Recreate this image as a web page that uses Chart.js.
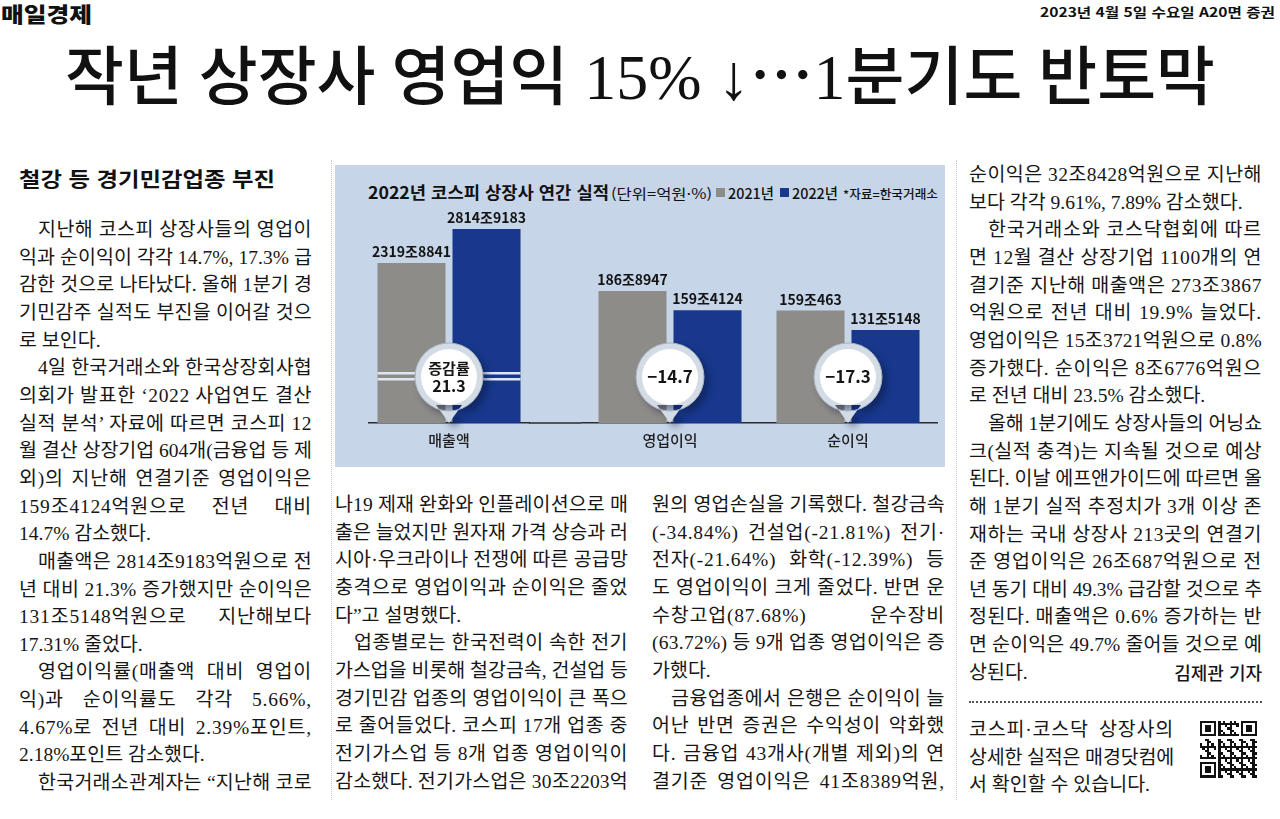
<!DOCTYPE html>
<html lang="ko">
<head>
<meta charset="utf-8">
<script src="https://cdn.jsdelivr.net/npm/chart.js@4.4.1/dist/chart.umd.min.js"></script>
<style>
html,body{margin:0;padding:0}
body{width:1280px;height:819px;position:relative;overflow:hidden;background:#fff;color:#1b1b1b;
  font-family:"Liberation Serif","Noto Sans CJK KR",serif}
.abs{position:absolute;white-space:nowrap}
.fit{display:inline-block;transform-origin:0 50%}
#logo{left:1px;top:1px;font:900 21px/24px "Noto Sans CJK KR";color:#111}
#date{left:1040px;top:3px;font:700 13px/18px "Noto Sans CJK KR";color:#111}
#headline{left:65px;top:33px;font:500 64px/76px "Liberation Serif","Noto Sans CJK KR";color:#111}
#headline .ell{font-family:"Noto Sans CJK SC"}
#subhead{left:19px;top:164px;font:700 20.5px/28px "Noto Sans CJK KR";color:#111}
.col{position:absolute;width:293px}
.ln{position:relative;height:27.65px;line-height:27.65px;white-space:nowrap;font-size:19.5px;box-sizing:border-box;color:#161616}
.ln.i{padding-left:19px}
.t{display:inline-block;transform-origin:0 50%}
.r{position:absolute;right:0;top:0;display:inline-block;transform-origin:100% 50%;font-family:"Noto Sans CJK KR";font-size:18px;font-weight:500}
.vsep{position:absolute;top:160px;height:640px;border-left:1px dotted #c9c9c9}
#dots{position:absolute;left:969px;top:701px;width:293px;border-top:2px dotted #555}
#chart{position:absolute;left:335px;top:165px;width:610px;height:302px;background:#c6d5e8}
#chart canvas{position:absolute;top:0}
#ctitle{left:33px;top:16px;font:700 16.5px/22px "Noto Sans CJK KR";color:#111}
#cunit{left:276px;top:17px;font:400 14px/22px "Noto Sans CJK KR";color:#111}
.lsq{position:absolute;top:23px;width:9px;height:9px}
.ltx{top:17px;font:500 14.5px/22px "Noto Sans CJK KR";color:#111}
#csrc{left:508px;top:18px;font:500 12px/22px "Noto Sans CJK KR";color:#111}
#qr{position:absolute;left:1200px;top:720px;width:57px;height:58px}
</style>
</head>
<body>
<script>
// ---- chart data (억원 / %) ----
const categories = ['매출액', '영업이익', '순이익'];
const seriesNames = ['2021년', '2022년'];
const series2021 = [23198841, 1868947, 1590463];
const series2022 = [28149183, 1594124, 1315148];
const changeRate = [21.3, -14.7, -17.3];
const rateCaption = ['증감률', null, null];
</script>

<div id="logo" class="abs"><span class="fit" data-w="91">매일경제</span></div>
<div id="date" class="abs"><span class="fit" data-w="235">2023년 4월 5일 수요일 A20면 증권</span></div>
<div id="headline" class="abs"><span class="fit" data-w="1150">작년 상장사 영업익 15% ↓<span class="ell">…</span>1분기도 반토막</span></div>
<div id="subhead" class="abs"><span class="fit" data-w="256">철강 등 경기민감업종 부진</span></div>

<div class="vsep" style="left:331px"></div>
<div class="vsep" style="left:956px"></div>

<div id="chart">
  <div id="ctitle" class="abs"><span class="fit" data-w="241">2022년 코스피 상장사 연간 실적</span></div>
  <div id="cunit" class="abs"><span class="fit" data-w="101">(단위=억원·%)</span></div>
  <div class="lsq" style="left:381px;background:#8e8c89"></div>
  <div class="abs ltx" style="left:393px"><span class="fit" data-w="46">2021년</span></div>
  <div class="lsq" style="left:445px;background:#17388d"></div>
  <div class="abs ltx" style="left:457px"><span class="fit" data-w="46">2022년</span></div>
  <div id="csrc" class="abs"><span class="fit" data-w="95">*자료=한국거래소</span></div>
  <canvas id="cA" width="246" height="302" style="left:0;width:246px;height:302px"></canvas>
  <canvas id="cB" width="364" height="302" style="left:246px;width:364px;height:302px"></canvas>
</div>

<div id="dots"></div>
<div id="qr"></div>

<script>
const COLORS = {gray:'#8e8c89', navy:'#17388d', axis:'#2b2b2b', ink:'#141414'};
const FONT = '"Noto Sans CJK KR"';

const fmtEok = v => Math.floor(v / 10000) + '조' + (v % 10000);
const fmtRate = r => (r < 0 ? '−' : '') + Math.abs(r).toFixed(1);

const valueLabels = {
  id: 'valueLabels',
  afterDatasetsDraw(chart) {
    const ctx = chart.ctx;
    ctx.save();
    ctx.font = '700 14px ' + FONT;
    ctx.fillStyle = COLORS.ink;
    ctx.textAlign = 'center';
    ctx.textBaseline = 'alphabetic';
    chart.data.datasets.forEach((ds, di) => {
      chart.getDatasetMeta(di).data.forEach((el, i) => {
        ctx.fillText(fmtEok(ds.data[i]), el.x, el.y - 6);
      });
    });
    ctx.restore();
  }
};

const axisBreak = {
  id: 'axisBreak',
  afterDatasetsDraw(chart) {
    const ctx = chart.ctx, base = chart.chartArea.bottom;
    ctx.save();
    ctx.fillStyle = '#dde6f1';
    chart.data.datasets.forEach((ds, di) => {
      chart.getDatasetMeta(di).data.forEach(el => {
        const l = el.x - el.width / 2;
        ctx.fillRect(l, base - 51, el.width, 2.5);
        ctx.fillRect(l, base - 45, el.width, 2.5);
      });
    });
    ctx.restore();
  }
};

function rateBubbles(idx) {
  return {
    id: 'rateBubbles',
    afterDatasetsDraw(chart) {
      const ctx = chart.ctx, base = chart.chartArea.bottom;
      idx.forEach((ci, k) => {
        const cx = chart.scales.x.getPixelForValue(k);
        const cy = base - 46, R = 34, r = 28;
        ctx.save();
        ctx.shadowColor = 'rgba(10,20,50,0.45)';
        ctx.shadowBlur = 7; ctx.shadowOffsetX = 5; ctx.shadowOffsetY = 5;
        ctx.fillStyle = '#d3dbe5';
        ctx.beginPath();
        ctx.arc(cx, cy, R, 0, Math.PI * 2);
        ctx.moveTo(cx - 13, cy + R - 6);
        ctx.lineTo(cx, base);
        ctx.lineTo(cx + 13, cy + R - 6);
        ctx.closePath();
        ctx.fill();
        ctx.restore();
        ctx.save();
        ctx.strokeStyle = '#a9b4c2'; ctx.lineWidth = 1;
        ctx.beginPath(); ctx.arc(cx, cy, R, 0, Math.PI * 2); ctx.stroke();
        ctx.fillStyle = '#ffffff';
        ctx.beginPath(); ctx.arc(cx, cy, r, 0, Math.PI * 2); ctx.fill();
        ctx.fillStyle = COLORS.ink; ctx.textAlign = 'center'; ctx.textBaseline = 'middle';
        if (rateCaption[ci]) {
          ctx.font = '700 15px ' + FONT;
          ctx.fillText(rateCaption[ci], cx, cy - 9);
          ctx.font = '700 16px ' + FONT;
          ctx.fillText(fmtRate(changeRate[ci]), cx, cy + 9);
        } else {
          ctx.font = '700 17px ' + FONT;
          ctx.fillText(fmtRate(changeRate[ci]), cx, cy);
        }
        ctx.restore();
      });
    }
  };
}

const baseExtend = {
  id: 'baseExtend',
  afterDraw(chart) {
    const ctx = chart.ctx, a = chart.chartArea;
    ctx.save();
    ctx.strokeStyle = COLORS.axis; ctx.lineWidth = 1.5;
    ctx.beginPath(); ctx.moveTo(a.right, a.bottom); ctx.lineTo(chart.width, a.bottom); ctx.stroke();
    ctx.restore();
  }
};

function barChart(id, idx, yMax, pad, catPct, extra) {
  return new Chart(document.getElementById(id), {
    type: 'bar',
    data: {
      labels: idx.map(i => categories[i]),
      datasets: [
        {label: seriesNames[0], data: idx.map(i => series2021[i]), backgroundColor: COLORS.gray,
         categoryPercentage: catPct, barPercentage: 0.907},
        {label: seriesNames[1], data: idx.map(i => series2022[i]), backgroundColor: COLORS.navy,
         categoryPercentage: catPct, barPercentage: 0.907}
      ]
    },
    options: {
      responsive: false,
      animation: false,
      layout: {padding: pad},
      plugins: {legend: {display: false}, tooltip: {enabled: false}},
      scales: {
        x: {
          offset: true,
          grid: {display: false, drawTicks: false},
          border: {display: true, color: COLORS.axis, width: 1.5},
          ticks: {padding: 8, maxRotation: 0, color: '#1e1e1e', font: {family: 'Noto Sans CJK KR', size: 15, weight: '500'}}
        },
        y: {display: false, min: 0, max: yMax}
      }
    },
    plugins: [valueLabels].concat(extra, [rateBubbles(idx)])
  });
}

// 매출액 is drawn on its own (broken) axis, the profits on a shared one
barChart('cA', [0], 30750000, {top: 46, bottom: 10, left: 34, right: 52}, 0.9375, [axisBreak, baseExtend]);
barChart('cB', [1, 2], 3000000, {top: 46, bottom: 10, left: 0, right: 8}, 0.8427, []);

// ---- article text ----
const col1 = [
 '^지난해 코스피 상장사들의 영업이',
 '익과 순이익이 각각 14.7%, 17.3% 급',
 '감한 것으로 나타났다. 올해 1분기 경',
 '기민감주 실적도 부진을 이어갈 것으',
 '로 보인다.$',
 '^4일 한국거래소와 한국상장회사협',
 '의회가 발표한 ‘2022 사업연도 결산',
 '실적 분석’ 자료에 따르면 코스피 12',
 '월 결산 상장기업 604개(금융업 등 제',
 '외)의 지난해 연결기준 영업이익은',
 '159조4124억원으로 전년 대비',
 '14.7% 감소했다.$',
 '^매출액은 2814조9183억원으로 전',
 '년 대비 21.3% 증가했지만 순이익은',
 '131조5148억원으로 지난해보다',
 '17.31% 줄었다.$',
 '^영업이익률(매출액 대비 영업이',
 '익)과 순이익률도 각각 5.66%,',
 '4.67%로 전년 대비 2.39%포인트,',
 '2.18%포인트 감소했다.$',
 '^한국거래소관계자는 “지난해 코로'
];
const col2 = [
 '나19 제재 완화와 인플레이션으로 매',
 '출은 늘었지만 원자재 가격 상승과 러',
 '시아·우크라이나 전쟁에 따른 공급망',
 '충격으로 영업이익과 순이익은 줄었',
 '다”고 설명했다.$',
 '^업종별로는 한국전력이 속한 전기',
 '가스업을 비롯해 철강금속, 건설업 등',
 '경기민감 업종의 영업이익이 큰 폭으',
 '로 줄어들었다. 코스피 17개 업종 중',
 '전기가스업 등 8개 업종 영업이익이',
 '감소했다. 전기가스업은 30조2203억'
];
const col3 = [
 '원의 영업손실을 기록했다. 철강금속',
 '(-34.84%) 건설업(-21.81%) 전기·',
 '전자(-21.64%) 화학(-12.39%) 등',
 '도 영업이익이 크게 줄었다. 반면 운',
 '수창고업(87.68%) 운수장비',
 '(63.72%) 등 9개 업종 영업이익은 증',
 '가했다.$',
 '^금융업종에서 은행은 순이익이 늘',
 '어난 반면 증권은 수익성이 악화했',
 '다. 금융업 43개사(개별 제외)의 연',
 '결기준 영업이익은 41조8389억원,'
];
const col4 = [
 '순이익은 32조8428억원으로 지난해',
 '보다 각각 9.61%, 7.89% 감소했다.$',
 '^한국거래소와 코스닥협회에 따르',
 '면 12월 결산 상장기업 1100개의 연',
 '결기준 지난해 매출액은 273조3867',
 '억원으로 전년 대비 19.9% 늘었다.',
 '영업이익은 15조3721억원으로 0.8%',
 '증가했다. 순이익은 8조6776억원으',
 '로 전년 대비 23.5% 감소했다.$',
 '^올해 1분기에도 상장사들의 어닝쇼',
 '크(실적 충격)는 지속될 것으로 예상',
 '된다. 이날 에프앤가이드에 따르면 올',
 '해 1분기 실적 추정치가 3개 이상 존',
 '재하는 국내 상장사 213곳의 연결기',
 '준 영업이익은 26조687억원으로 전',
 '년 동기 대비 49.3% 급감할 것으로 추',
 '정된다. 매출액은 0.6% 증가하는 반',
 '면 순이익은 49.7% 줄어들 것으로 예',
 '상된다.$|김제관 기자'
];
const colBox = [
 '코스피·코스닥 상장사의',
 '상세한 실적은 매경닷컴에',
 '서 확인할 수 있습니다.$'
];

const LH = 27.65, CONDENSE = 1.0, MAX_LS = 0.8;
function buildCol(lines, left, firstCenter, width) {
  const col = document.createElement('div');
  col.className = 'col';
  col.style.left = left + 'px';
  col.style.top = (firstCenter - LH / 2) + 'px';
  col.style.width = width + 'px';
  lines.forEach(s => {
    let right = null;
    if (s.includes('|')) { [s, right] = s.split('|'); }
    const ln = document.createElement('div');
    ln.className = 'ln';
    if (s.startsWith('^')) { ln.classList.add('i'); s = s.slice(1); }
    if (s.endsWith('$')) { s = s.slice(0, -1); } else { ln.classList.add('j'); }
    const t = document.createElement('span');
    t.className = 't'; t.textContent = s;
    ln.appendChild(t);
    if (right) {
      const r = document.createElement('span');
      r.className = 'r'; r.textContent = right;
      ln.appendChild(r);
    }
    col.appendChild(ln);
  });
  document.body.appendChild(col);
}
buildCol(col1, 19, 230, 293);
buildCol(col2, 335, 505, 293);
buildCol(col3, 652, 505, 293);
buildCol(col4, 969, 175, 293);
buildCol(colBox, 969, 730, 205);

document.querySelectorAll('.ln').forEach(ln => {
  const t = ln.querySelector('.t');
  const cs = getComputedStyle(ln);
  const W = ln.clientWidth - parseFloat(cs.paddingLeft);
  const nat = t.getBoundingClientRect().width;
  const target = W / CONDENSE;
  const diff = target - nat;
  const chars = [...t.textContent].length;
  const spaces = (t.textContent.match(/ /g) || []).length;
  if (diff < 0) {
    t.style.letterSpacing = (diff / chars) + 'px';
  } else if (ln.classList.contains('j')) {
    const ls = spaces > 0 ? Math.min(MAX_LS, diff / chars) : diff / chars;
    t.style.letterSpacing = ls + 'px';
    const rest = diff - ls * chars;
    if (spaces > 0 && rest > 0) t.style.wordSpacing = (rest / spaces) + 'px';
  }
  t.style.transform = 'scaleX(' + CONDENSE + ')';
  const r = ln.querySelector('.r');
  if (r) r.style.transform = 'scaleX(' + CONDENSE + ')';
});

document.querySelectorAll('.fit').forEach(el => {
  const w = parseFloat(el.dataset.w);
  const n = el.getBoundingClientRect().width;
  el.style.transform = 'scaleX(' + (w / n) + ')';
});

// decorative QR code block
(function () {
  const N = 25, s = 57 / N;
  let svg = '<svg xmlns="http://www.w3.org/2000/svg" width="57" height="58" viewBox="0 0 57 57" shape-rendering="crispEdges"><rect width="57" height="57" fill="#fff"/>';
  const finder = (fx, fy) => (x, y) => {
    const dx = x - fx, dy = y - fy;
    if (dx < 0 || dy < 0 || dx > 6 || dy > 6) return null;
    if (dx === 0 || dy === 0 || dx === 6 || dy === 6) return 1;
    if (dx >= 2 && dx <= 4 && dy >= 2 && dy <= 4) return 1;
    return 0;
  };
  const fs = [finder(0, 0), finder(18, 0), finder(0, 18)];
  for (let y = 0; y < N; y++) for (let x = 0; x < N; x++) {
    let on = null;
    for (const f of fs) { const v = f(x, y); if (v !== null) on = v; }
    if (on === null) {
      if ((x === 7 || y === 7 || (x === 17 && y < 8) || (y === 17 && x < 8))) on = 0;
      else on = ((x * 7 + y * 11 + x * y * 3) % 5 < 2) ? 1 : 0;
    }
    if (on) svg += '<rect x="' + (x * s) + '" y="' + (y * s) + '" width="' + s + '" height="' + s + '" fill="#111"/>';
  }
  svg += '</svg>';
  document.getElementById('qr').innerHTML = svg;
})();
</script>
</body>
</html>
